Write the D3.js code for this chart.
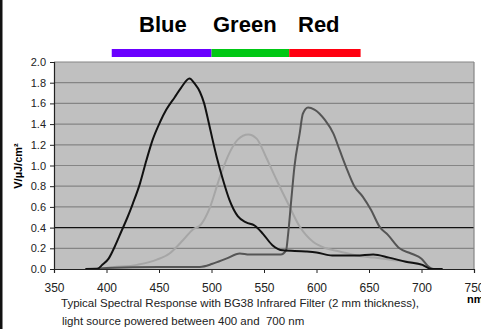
<!DOCTYPE html>
<html>
<head>
<meta charset="utf-8">
<script src="https://cdn.jsdelivr.net/npm/d3@7"></script>
<style>
    body { margin: 0; background: #fff; }
    svg { display: block; font-family: 'Liberation Sans', Arial, sans-serif; }
</style>
</head>
<body>
<div class="chart"></div>
<script>
// spectral response curves, wavelength in nm / response in V/µJ/cm²
const blueNm = [380, 391, 396, 402, 408, 414, 420, 425, 432, 438, 444, 451, 457, 465, 471, 479, 484, 489, 493, 497, 501, 505, 511, 517, 525, 533, 541, 549, 558, 568, 590, 600, 615, 638, 654, 669, 685, 701, 709, 720];
const blueV = [0, 0, 0.04, 0.1, 0.22, 0.36, 0.5, 0.63, 0.83, 1.05, 1.25, 1.42, 1.54, 1.66, 1.75, 1.84, 1.79, 1.71, 1.6, 1.43, 1.25, 1.08, 0.86, 0.67, 0.51, 0.45, 0.42, 0.34, 0.23, 0.18, 0.17, 0.16, 0.13, 0.13, 0.14, 0.11, 0.07, 0.04, 0, 0];

const greenNm = [395, 400, 429, 448, 460, 473, 482, 490, 498, 508, 517, 525, 535, 543, 552, 562, 573, 584, 597, 609, 622, 638, 655, 670, 695, 708, 712];
const greenV = [0, 0.01, 0.04, 0.09, 0.15, 0.28, 0.38, 0.43, 0.58, 0.89, 1.12, 1.25, 1.3, 1.26, 1.08, 0.86, 0.63, 0.41, 0.26, 0.2, 0.17, 0.13, 0.11, 0.09, 0.055, 0.01, 0];

const redNm = [380, 400, 450, 489, 501, 514, 527, 536, 566, 571, 573, 576, 579, 584, 587, 592, 598, 608, 616, 622, 628, 636, 644, 652, 660, 668, 679, 690, 700, 707, 711, 720];
const redV = [0, 0.01, 0.02, 0.02, 0.05, 0.1, 0.15, 0.14, 0.14, 0.18, 0.34, 0.67, 0.99, 1.31, 1.5, 1.56, 1.54, 1.44, 1.31, 1.15, 0.99, 0.8, 0.7, 0.57, 0.41, 0.33, 0.2, 0.15, 0.1, 0.02, 0, 0];

// colour bar above the plot
const bandNames = ['Blue', 'Green', 'Red'];
const bandStart = [405, 500, 574];
const bandEnd = [500, 574, 642];
const bandColors = ['#6a00ff', '#00c814', '#ff0010'];

const xTicks = [350, 400, 450, 500, 550, 600, 650, 700, 750];
const yTicks = [0, 0.2, 0.4, 0.6, 0.8, 1.0, 1.2, 1.4, 1.6, 1.8, 2.0];

const caption = [
    'Typical Spectral Response with BG38 Infrared Filter (2 mm thickness),',
    'light source powered between 400 and  700 nm',
];

const W = 481;
const H = 329;
const margin = { top: 62, right: 7, bottom: 60, left: 54 };

const svg = d3.select('.chart').append('svg').attr('width', W).attr('height', H);

const x = d3.scaleLinear().domain([350, 750]).range([margin.left, W - margin.right]);
const y = d3.scaleLinear().domain([0, 2]).range([H - margin.bottom, margin.top]);

// left frame line
svg.append('rect').attr('x', 0).attr('y', 0).attr('width', 2.5).attr('height', H).attr('fill', '#111');

// plot background
svg.append('rect')
    .attr('x', x(350))
    .attr('y', y(2))
    .attr('width', x(750) - x(350))
    .attr('height', y(0) - y(2))
    .attr('fill', '#c0c0c0');

// grid
svg.append('g')
    .selectAll('line')
    .data(yTicks.filter((d) => d > 0))
    .enter()
    .append('line')
    .attr('x1', x(350))
    .attr('x2', x(750))
    .attr('y1', (d) => y(d))
    .attr('y2', (d) => y(d))
    .attr('stroke', (d) => (d === 0.4 ? '#111' : '#858585'))
    .attr('stroke-width', 1.2);

svg.append('line')
    .attr('x1', x(750))
    .attr('x2', x(750))
    .attr('y1', y(2))
    .attr('y2', y(0))
    .attr('stroke', '#858585')
    .attr('stroke-width', 1.2);

// curves
const series = [
    { nm: greenNm, v: greenV, color: '#a6a6a6' },
    { nm: redNm, v: redV, color: '#555' },
    { nm: blueNm, v: blueV, color: '#111' },
];

const line = d3
    .line()
    .x((d) => x(d[0]))
    .y((d) => y(d[1]))
    .curve(d3.curveMonotoneX);

svg.append('g')
    .selectAll('path')
    .data(series)
    .enter()
    .append('path')
    .attr('d', (s) => line(d3.zip(s.nm, s.v)))
    .attr('fill', 'none')
    .attr('stroke', (s) => s.color)
    .attr('stroke-width', 2)
    .attr('stroke-linejoin', 'round');

// axes
const yAxis = svg
    .append('g')
    .attr('transform', `translate(${x(350)},0)`)
    .call(d3.axisLeft(y).tickValues(yTicks).tickSize(4).tickPadding(4).tickFormat(d3.format('.1f')));

const xAxis = svg
    .append('g')
    .attr('transform', `translate(0,${y(0)})`)
    .call(d3.axisBottom(x).tickValues(xTicks).tickSize(4).tickPadding(10).tickFormat(d3.format('d')));

for (const ax of [yAxis, xAxis]) {
    ax.select('.domain').attr('stroke', '#222').attr('stroke-width', 1.2);
    ax.selectAll('.tick line').attr('stroke', '#222');
    ax.selectAll('.tick text').attr('fill', '#222').style('font-family', "'Liberation Sans', Arial, sans-serif");
}
yAxis.selectAll('.tick text').style('font-size', '11px');
xAxis.selectAll('.tick text').style('font-size', '12px');
yAxis.selectAll('.tick').filter((d) => d === 0.4).select('line').attr('stroke', '#111');

svg.append('text')
    .attr('transform', 'translate(22,166) rotate(-90)')
    .attr('text-anchor', 'middle')
    .style('font-size', '11px')
    .style('font-weight', 'bold')
    .text('V/µJ/cm²');

svg.append('text')
    .attr('x', 467)
    .attr('y', 303)
    .style('font-size', '11px')
    .style('font-weight', 'bold')
    .text('nm');

// title words and colour bar
const titleX = [139, 213, 298];
svg.append('g')
    .selectAll('text')
    .data(bandNames)
    .enter()
    .append('text')
    .attr('x', (d, i) => titleX[i])
    .attr('y', 32)
    .style('font-size', '22px')
    .style('font-weight', 'bold')
    .text((d) => d);

svg.append('g')
    .selectAll('rect')
    .data(bandNames)
    .enter()
    .append('rect')
    .attr('x', (d, i) => x(bandStart[i]))
    .attr('width', (d, i) => x(bandEnd[i]) - x(bandStart[i]))
    .attr('y', 49)
    .attr('height', 8)
    .attr('fill', (d, i) => bandColors[i]);

// caption
svg.append('g')
    .selectAll('text')
    .data(caption)
    .enter()
    .append('text')
    .attr('x', (d, i) => 61 + i)
    .attr('y', (d, i) => 307 + i * 18)
    .attr('fill', '#222')
    .style('font-size', '11.5px')
    .style('white-space', 'pre')
    .text((d) => d);
</script>
</body>
</html>
